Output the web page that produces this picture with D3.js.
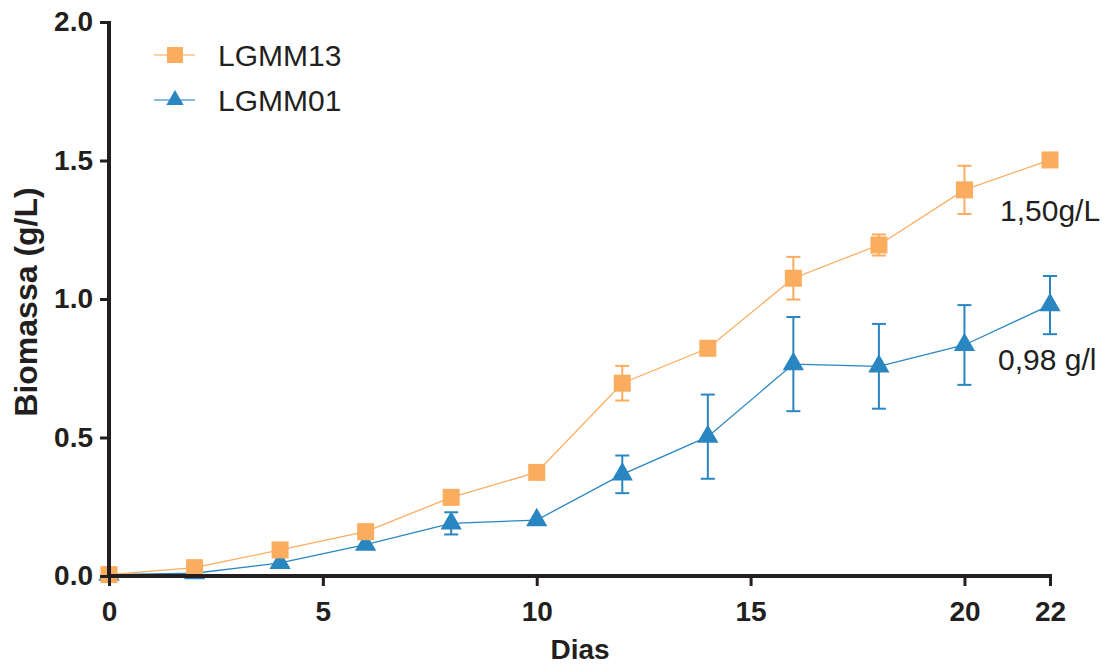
<!DOCTYPE html>
<html><head><meta charset="utf-8">
<script src="https://cdn.jsdelivr.net/npm/d3@7"></script>
<style>body{margin:0;background:#fff}svg{display:block}</style>
</head><body>
<svg id="c" width="1110" height="666"></svg>
<script>
const days = [0,2,4,6,8,10,12,14,16,18,20,22];
const lgmm13 = [0.005,0.03,0.094,0.16,0.284,0.374,0.696,0.822,1.075,1.195,1.394,1.502];
const lgmm13Err = [0,0,0,0,0,0,0.0625,0,0.077,0.038,0.087,0];
const lgmm01 = [0.005,0.01,0.047,0.113,0.19,0.202,0.367,0.503,0.765,0.757,0.834,0.978];
const lgmm01Err = [0,0,0,0,0.04,0,0.068,0.152,0.17,0.153,0.144,0.105];
const xTicks = [0,5,10,15,20,22];
const yTicks = [0,0.5,1.0,1.5,2.0];
const seriesNames = ["LGMM13","LGMM01"];
const annotations = ["1,50g/L","0,98 g/l"];

const svg = d3.select("#c");
const x = d3.scaleLinear().domain([0,22]).range([109,1050]);
const y = d3.scaleLinear().domain([0,2]).range([576,22]);
const axisCol = "#231f20";
const orange = "#FBAD5F", blue = "#2A86C1";
const SQ = 290, TRI = 195;

function drawSeries(vals, errs, col, shape, size){
  const g = svg.append("g");
  const line = d3.line().x((d,i)=>x(days[i])).y(d=>y(d));
  g.append("path").attr("d", line(vals)).attr("fill","none").attr("stroke",col).attr("stroke-width",1.3);
  vals.forEach((v,i)=>{
    const e = errs[i];
    if(e>0){
      const cx = x(days[i]);
      g.append("line").attr("x1",cx).attr("x2",cx).attr("y1",y(v+e)).attr("y2",y(v-e)).attr("stroke",col).attr("stroke-width",2);
      [v+e,v-e].forEach(t=>g.append("line").attr("x1",cx-7).attr("x2",cx+7).attr("y1",y(t)).attr("y2",y(t)).attr("stroke",col).attr("stroke-width",2));
    }
  });
  vals.forEach((v,i)=>{
    g.append("path").attr("transform",`translate(${x(days[i])},${y(v)})`)
      .attr("d", d3.symbol().type(shape).size(size)()).attr("fill",col);
  });
}
drawSeries(lgmm01, lgmm01Err, blue, d3.symbolTriangle, TRI);
drawSeries(lgmm13, lgmm13Err, orange, d3.symbolSquare, SQ);

// axes
const font = "'Liberation Sans', Arial, Helvetica, sans-serif";
const xa = svg.append("g").attr("transform","translate(0,576)")
  .call(d3.axisBottom(x).tickValues(xTicks).tickSize(10).tickPadding(15).tickFormat(d3.format("d")));
xa.select(".domain").attr("d",`M${x(0)-2},0H${x(22)+2}`).attr("stroke",axisCol).attr("stroke-width",4);
xa.selectAll(".tick line").attr("stroke",axisCol).attr("stroke-width",3);
xa.selectAll("text").attr("font-family",font).attr("font-weight","bold").attr("font-size",28).attr("fill",axisCol);

const ya = svg.append("g").attr("transform","translate(109,0)")
  .call(d3.axisLeft(y).tickValues(yTicks).tickSize(9).tickPadding(7).tickFormat(d3.format(".1f")));
ya.select(".domain").attr("d",`M0,${y(2)-1}V${y(0)+2}`).attr("stroke",axisCol).attr("stroke-width",4);
ya.selectAll(".tick line").attr("stroke",axisCol).attr("stroke-width",3);
ya.selectAll("text").attr("font-family",font).attr("font-weight","bold").attr("font-size",28).attr("fill",axisCol);

svg.append("text").attr("x",580).attr("y",659).attr("text-anchor","middle")
  .attr("font-family",font).attr("font-weight","bold").attr("font-size",28).attr("fill",axisCol).text("Dias");
svg.append("text").attr("transform","translate(37,302) rotate(-90)").attr("text-anchor","middle")
  .attr("font-family",font).attr("font-weight","bold").attr("font-size",32).attr("fill",axisCol).text("Biomassa (g/L)");

// legend
const leg = [[orange, d3.symbolSquare, 256, 55, 66], [blue, d3.symbolTriangle, 130, 100, 111]];
leg.forEach((l,i)=>{
  const ly = l[3];
  svg.append("line").attr("x1",154).attr("x2",195).attr("y1",ly).attr("y2",ly).attr("stroke",l[0]).attr("stroke-width",2).attr("opacity",0.55);
  svg.append("path").attr("transform",`translate(175,${ly})`).attr("d",d3.symbol().type(l[1]).size(l[2])()).attr("fill",l[0]);
  svg.append("text").attr("x",218).attr("y",l[4]).attr("font-family",font).attr("font-size",30).attr("fill",axisCol).text(seriesNames[i]);
});

// annotations
svg.append("text").attr("x",1000).attr("y",221).attr("font-family",font).attr("font-size",30).attr("fill",axisCol).text(annotations[0]);
svg.append("text").attr("x",998).attr("y",370).attr("font-family",font).attr("font-size",30).attr("fill",axisCol).text(annotations[1]);
</script>
</body></html>
